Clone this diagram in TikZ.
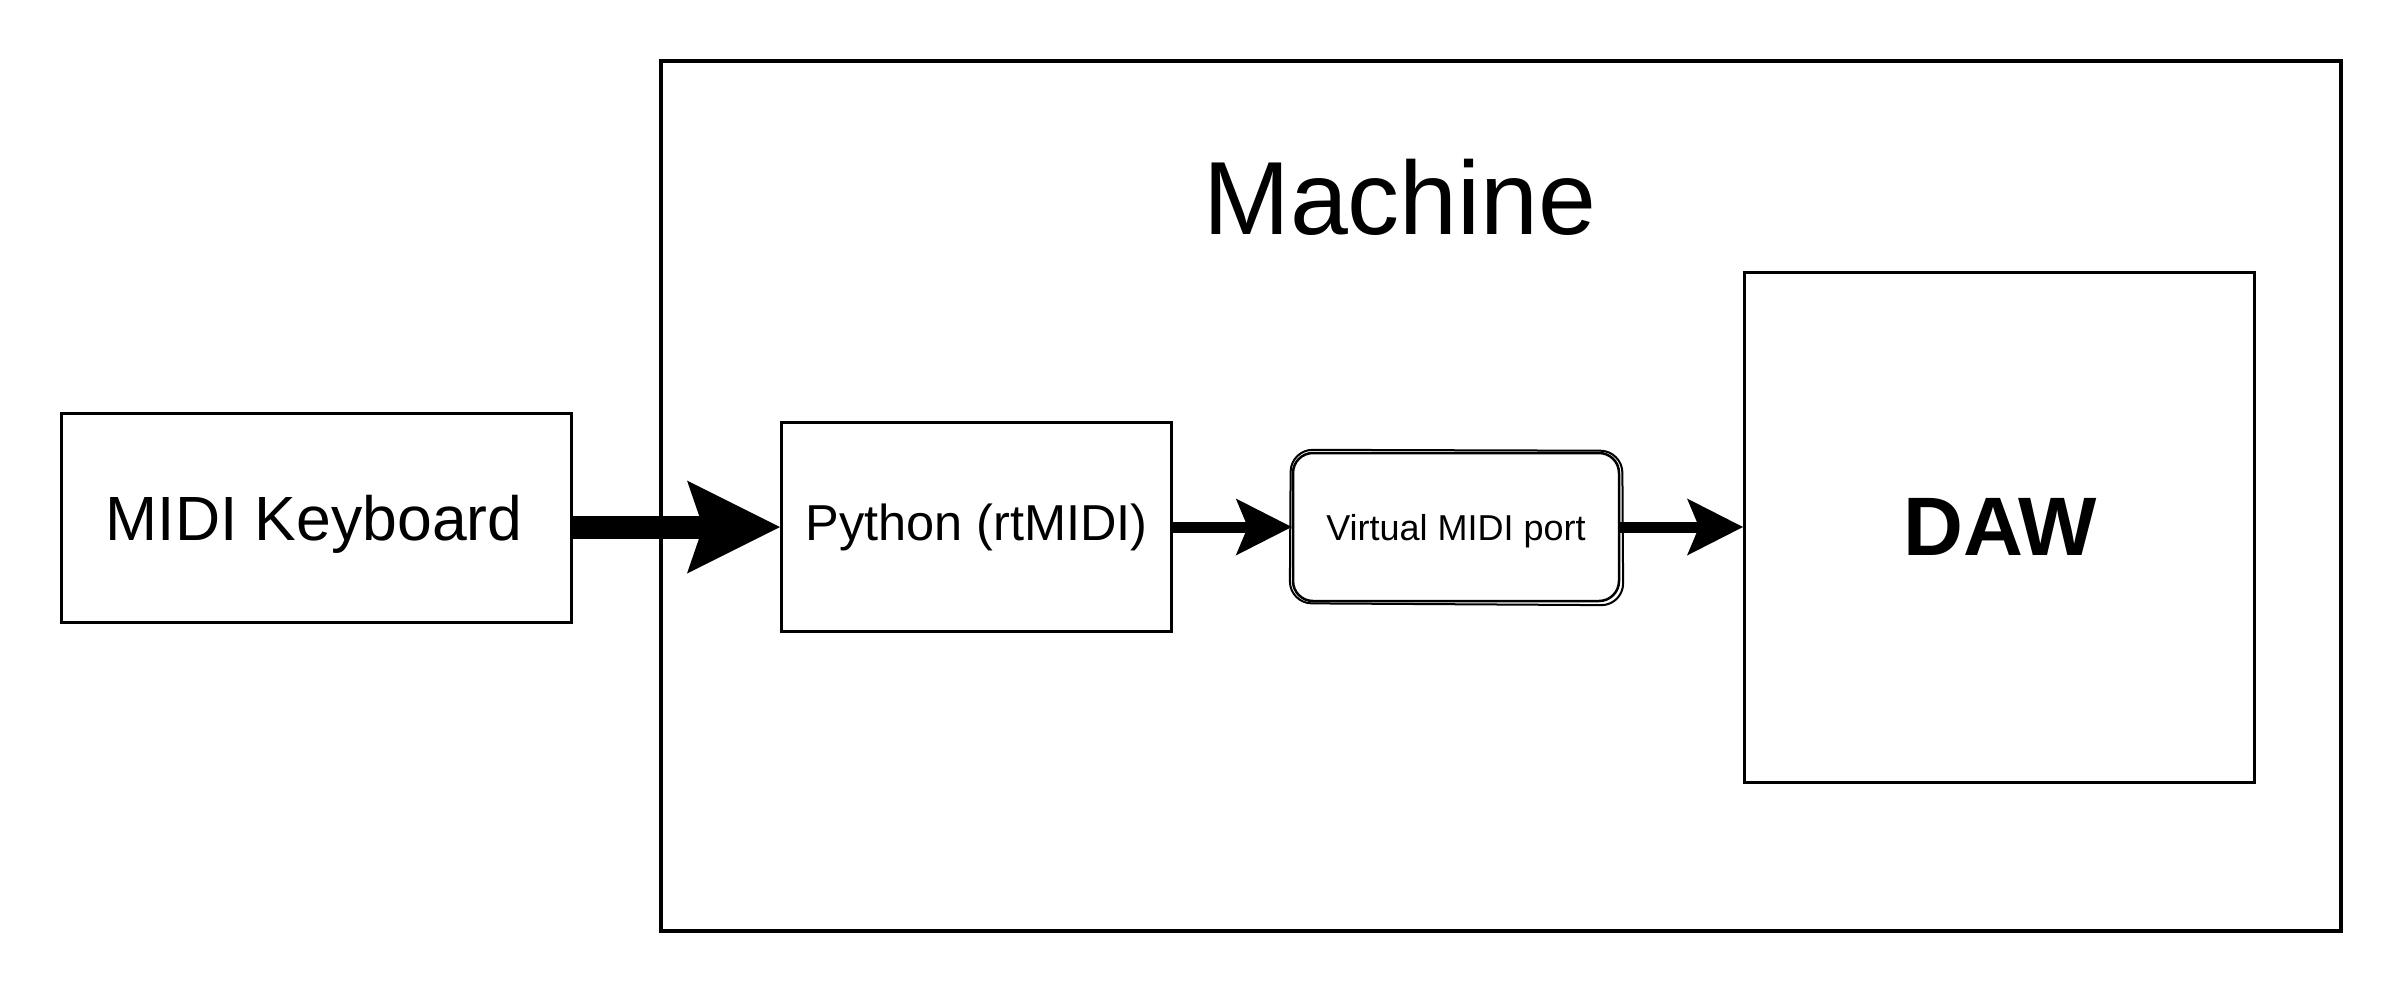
\documentclass[tikz,border=0pt]{standalone}
\usepackage{fontspec}
\setmainfont{Liberation Sans}
\usetikzlibrary{arrows.meta}
\tikzset{
  box/.style={draw=black, line width=3pt, fill=white, inner sep=0pt},
  lbl/.style={inner sep=0pt, anchor=base, text=black},
  bigarrow/.style={draw=black, line width=23pt, -{Stealth[length=93pt,width=93pt,inset=16pt,line width=0pt]}},
  smallarrow/.style={draw=black, line width=11pt, -{Stealth[length=56pt,width=57pt,inset=12pt,line width=0pt]}},
}
\begin{document}
\begin{tikzpicture}[x=1pt,y=-1pt]
\useasboundingbox (0,0) rectangle (2403,993);
\fill[white] (0,0) rectangle (2403,993);
% machine container
\node[draw=black, line width=4pt, minimum width=1680pt, minimum height=870pt, inner sep=0pt] (machine) at (1501,496) {};
\node[lbl, font=\fontsize{104}{120}\selectfont] (machinelbl) at (1400,234) {Machine};
% boxes
\node[box, minimum width=510pt, minimum height=209pt] (kb) at (316,517.5) {};
\node[lbl, font=\fontsize{62.5}{72}\selectfont] (kblbl) at (314,540) {MIDI Keyboard};
\node[box, minimum width=390pt, minimum height=209pt] (py) at (976.5,527) {};
\node[lbl, font=\fontsize{50.5}{60}\selectfont] (pylbl) at (976.5,540) {Python (rtMIDI)};
\node[box, line width=2.5pt, rounded corners=20pt, minimum width=326pt, minimum height=148pt] (port) at (1456,527) {};
\draw[line width=2pt, rounded corners=22pt] ([shift={(-1,-2)}]port.north west) -- ([shift={(2,-1)}]port.north east) -- ([shift={(3,3)}]port.south east) -- ([shift={(-2,1)}]port.south west) -- cycle;
\node[lbl, font=\fontsize{36}{44}\selectfont] (portlbl) at (1456,540) {Virtual MIDI port};
\node[box, minimum width=510pt, minimum height=510pt] (daw) at (1999.5,527) {};
\node[lbl, font=\bfseries\fontsize{83}{96}\selectfont] (dawlbl) at (2000,555) {DAW};
% connectors
\draw[bigarrow] (kb.east |- py.west) -- (py.west);
\draw[smallarrow] (py.east) -- (port.west);
\draw[smallarrow] (port.east) -- (daw.west);
\end{tikzpicture}
\end{document}
